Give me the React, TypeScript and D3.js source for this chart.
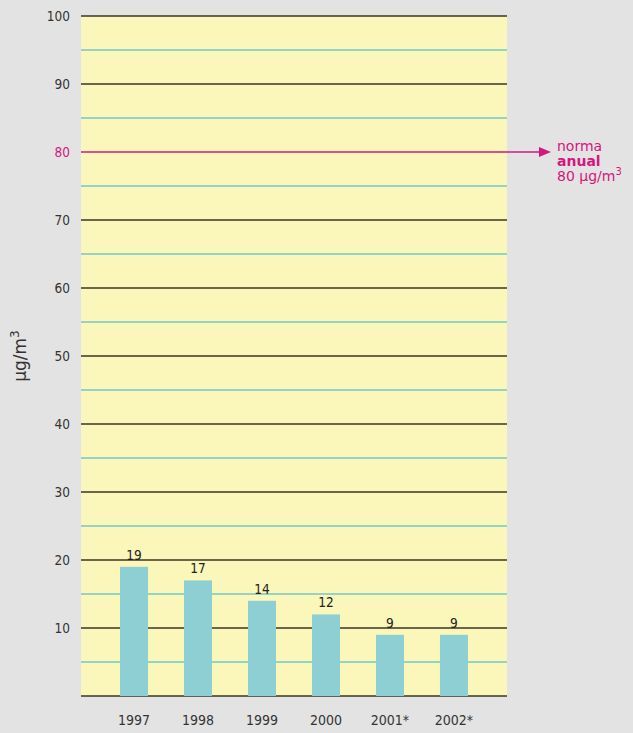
import React from "react";
import * as d3 from "d3";

// Annual mean concentration per year (µg/m³)
const years = ["1997", "1998", "1999", "2000", "2001*", "2002*"];
const values = [19, 17, 14, 12, 9, 9];
const majorTicks = [10, 20, 30, 40, 50, 60, 70, 80, 90, 100];
const minorTicks = [5, 15, 25, 35, 45, 55, 65, 75, 85, 95];
const normValue = 80;
const normLabel = ["norma", "anual", "80 µg/m"];

const W = 633;
const H = 733;
const plot = { left: 81, right: 507, top: 16, bottom: 696 };
const FONT = "'DejaVu Sans Condensed', 'DejaVu Sans', sans-serif";
const MAGENTA = "#d5167e";

export default function App() {
  const y = d3.scaleLinear().domain([0, 100]).range([plot.bottom, plot.top]);
  const x = d3
    .scaleBand<string>()
    .domain(years)
    .range([plot.left, plot.right])
    .paddingInner(0.5625)
    .paddingOuter(0.61);

  const arrowEnd = 551;

  return (
    <svg
      width={W}
      height={H}
      style={{ position: "absolute", left: 0, top: 0, fontStretch: "condensed" }}
      fontFamily={FONT}
    >
      <rect x={0} y={0} width={W} height={H} fill="#e3e3e3" />
      <rect
        x={plot.left}
        y={plot.top}
        width={plot.right - plot.left}
        height={plot.bottom - plot.top}
        fill="#fbf6b9"
      />

      {minorTicks.map((t) => (
        <line
          key={"m" + t}
          x1={plot.left}
          x2={plot.right}
          y1={y(t)}
          y2={y(t)}
          stroke="#74c7cc"
          strokeWidth={1.3}
        />
      ))}
      {majorTicks.map((t) =>
        t === normValue ? null : (
          <line
            key={"M" + t}
            x1={plot.left}
            x2={plot.right}
            y1={y(t)}
            y2={y(t)}
            stroke="#3b3524"
            strokeWidth={1.5}
          />
        )
      )}
      <line
        x1={plot.left}
        x2={plot.right}
        y1={y(0)}
        y2={y(0)}
        stroke="#3b3524"
        strokeWidth={1.5}
      />

      {majorTicks.map((t) => (
        <text
          key={"t" + t}
          x={70}
          y={y(t)}
          dy="0.35em"
          textAnchor="end"
          fontSize={13.5}
          fill={t === normValue ? MAGENTA : "#333"}
        >
          {t}
        </text>
      ))}

      <text
        transform={`translate(26, 356) rotate(-90)`}
        textAnchor="middle"
        fontSize={17}
        fill="#333"
        style={{ fontStretch: "normal" }}
        fontFamily="'DejaVu Sans', sans-serif"
      >
        µg/m<tspan dy={-7} fontSize={12}>3</tspan>
      </text>

      {years.map((yr, i) => (
        <g key={yr}>
          <rect
            x={x(yr)}
            y={y(values[i])}
            width={x.bandwidth()}
            height={y(0) - y(values[i])}
            fill="#8dcfd3"
          />
          <text
            x={(x(yr) as number) + x.bandwidth() / 2}
            y={y(values[i]) - 7}
            textAnchor="middle"
            fontSize={13.5}
            fill="#222"
          >
            {values[i]}
          </text>
          <text
            x={(x(yr) as number) + x.bandwidth() / 2}
            y={725}
            textAnchor="middle"
            fontSize={14}
            fill="#333"
          >
            {yr}
          </text>
        </g>
      ))}

      {/* annual limit line with arrow */}
      <line
        x1={plot.left}
        x2={arrowEnd - 10}
        y1={y(normValue)}
        y2={y(normValue)}
        stroke={MAGENTA}
        strokeWidth={1.5}
      />
      <path
        d={`M${arrowEnd},${y(normValue)} L${arrowEnd - 12},${y(normValue) - 5} L${arrowEnd - 12},${y(normValue) + 5} Z`}
        fill={MAGENTA}
      />
      <g style={{ fontStretch: "normal" }} fontFamily="'DejaVu Sans', sans-serif">
        <text x={557} y={151} fontSize={14} fill={MAGENTA}>
          {normLabel[0]}
        </text>
        <text x={557} y={166} fontSize={14} fontWeight="bold" fill={MAGENTA}>
          {normLabel[1]}
        </text>
        <text x={557} y={181} fontSize={14} fill={MAGENTA}>
          {normLabel[2]}
          <tspan dy={-6} fontSize={10}>3</tspan>
        </text>
      </g>
    </svg>
  );
}
